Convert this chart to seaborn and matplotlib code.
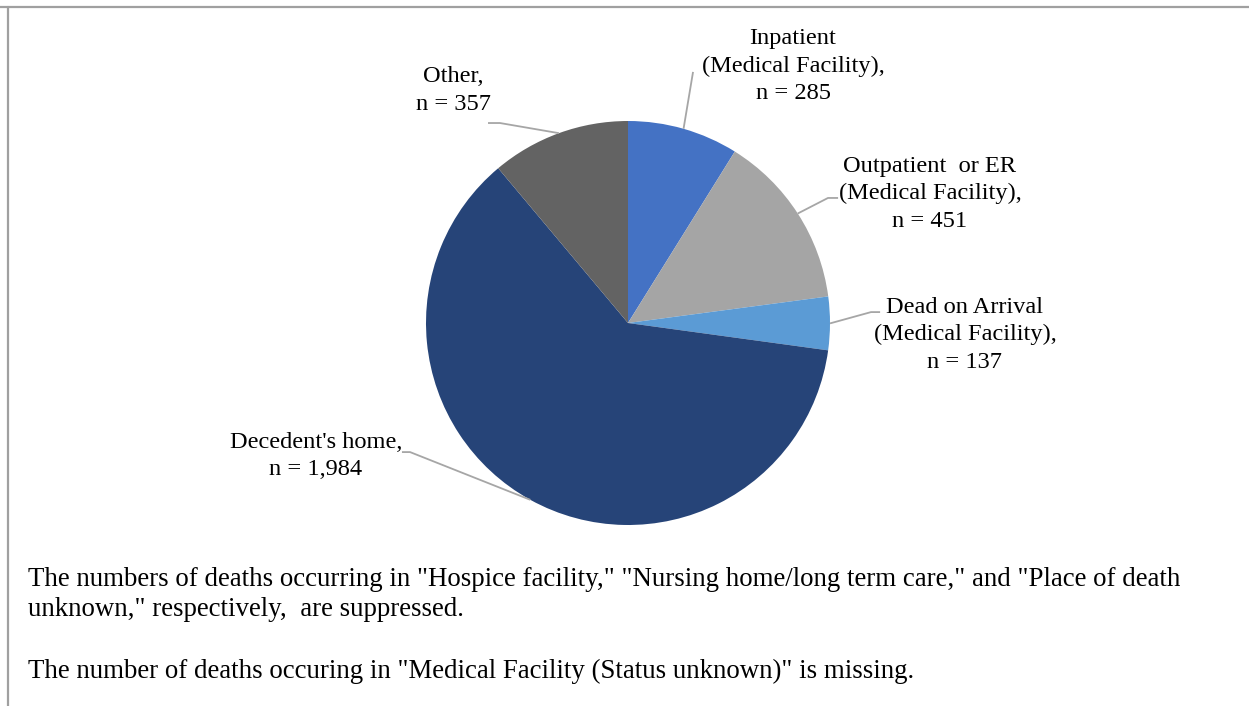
import numpy as np
import seaborn as sns
import matplotlib.pyplot as plt
from matplotlib.lines import Line2D

# Datos del grafico
categorias = ["Inpatient\n(Medical Facility),", "Outpatient  or ER\n(Medical Facility),",
              "Dead on Arrival\n(Medical Facility),", "Decedent's home,", "Other,"]
valores = [285, 451, 137, 1984, 357]
colores = ["#4472C4", "#A5A5A5", "#5B9BD5", "#264478", "#636363"]

notas = [
    "The numbers of deaths occurring in \"Hospice facility,\" \"Nursing home/long term care,\" and \"Place of death",
    "unknown,\" respectively,  are suppressed.",
    "The number of deaths occuring in \"Medical Facility (Status unknown)\" is missing.",
]

# Posicion de las etiquetas (unidades del radio) y codo de la linea guia
pos_etiquetas = [(0.817, 1.270), (1.495, 0.640), (1.668, -0.058), (-1.545, -0.657), (-0.866, 1.150)]
codos = [[(0.322, 1.243)],
         [(0.99, 0.619), (1.04, 0.619)],
         [(1.203, 0.054), (1.248, 0.054)],
         [(-1.079, -0.639), (-1.119, -0.639)],
         [(-0.634, 0.99), (-0.693, 0.99)]]

sns.set_theme(style="white")
plt.rcParams["font.family"] = ["Liberation Serif", "DejaVu Serif"]

W, H = 1249, 706
cx, cy, r = 628, 323, 202
fig = plt.figure(figsize=(W / 100, H / 100), dpi=100)
ax = fig.add_axes([0, 0, 1, 1])

wedges, _ = ax.pie(valores, colors=colores, startangle=90, counterclock=False,
                   radius=1, wedgeprops=dict(linewidth=0))
ax.set_xlim(-cx / r, (W - cx) / r)
ax.set_ylim(-(H - cy) / r, cy / r)
ax.set_aspect("equal", adjustable="box")
ax.axis("off")

for w, cat, v, (tx, ty), codo in zip(wedges, categorias, valores, pos_etiquetas, codos):
    ang = np.deg2rad((w.theta1 + w.theta2) / 2)
    puntos = [(np.cos(ang), np.sin(ang))] + codo
    xs, ys = zip(*puntos)
    ax.plot(xs, ys, color="#A6A6A6", lw=1.3, solid_capstyle="butt")
    ax.text(tx, ty, f"{cat}\nn = {v:,}", ha="center", va="center", fontsize=17.6,
            color="black", linespacing=1.4)

# Notas al pie
ys_notas = [579, 609, 671]
for txt, yp in zip(notas, ys_notas):
    fig.text(28 / W, 1 - yp / H, txt, ha="left", va="center", fontsize=19.4, color="black")

# Borde del recuadro
fig.add_artist(Line2D([0, 1], [1 - 7 / H, 1 - 7 / H], transform=fig.transFigure, color="#A0A0A0", lw=1.6))
fig.add_artist(Line2D([8 / W, 8 / W], [0, 1 - 7 / H], transform=fig.transFigure, color="#A0A0A0", lw=1.6))

fig.savefig("out.png", dpi=100)
